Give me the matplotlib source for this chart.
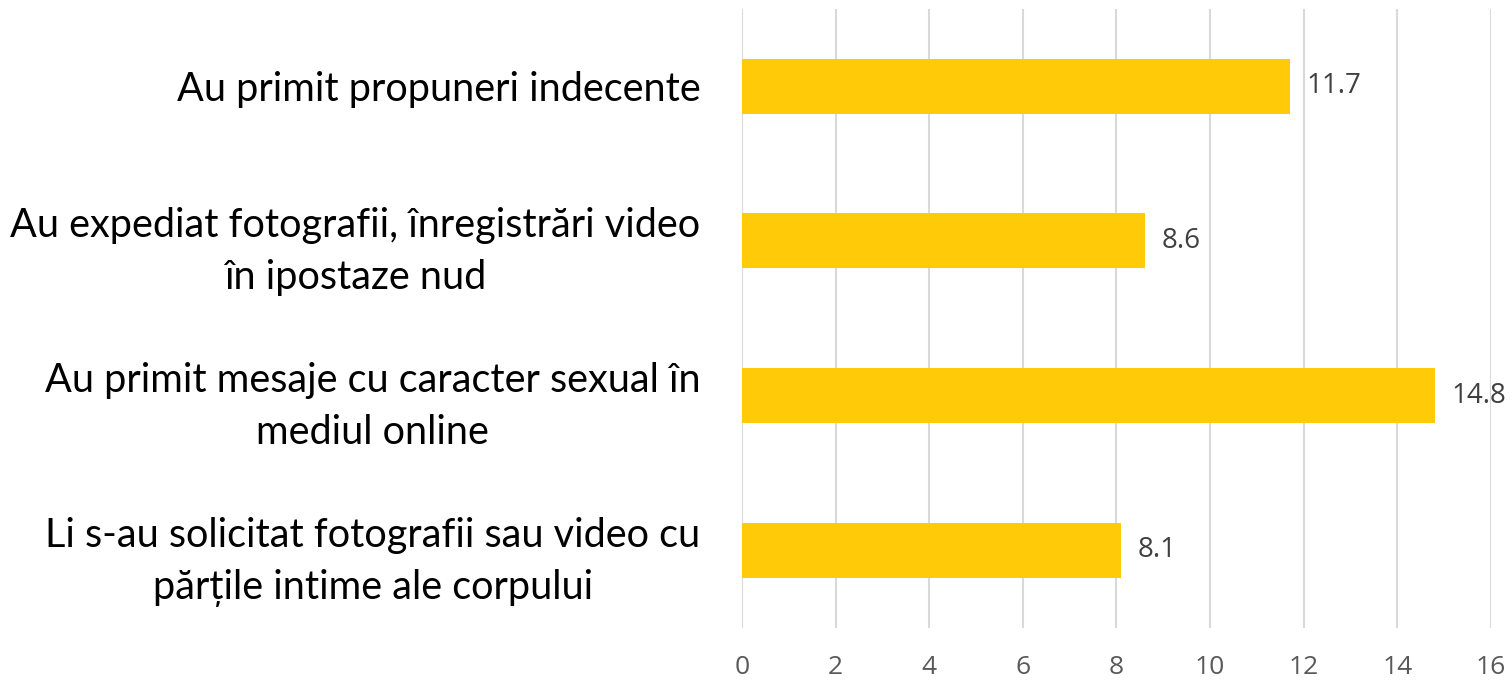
import matplotlib
matplotlib.use("Agg")
import matplotlib.pyplot as plt

categories = [
    "Au primit propuneri indecente",
    "Au expediat fotografii, înregistrări video\nîn ipostaze nud",
    "Au primit mesaje cu caracter sexual în\nmediul online",
    "Li s-au solicitat fotografii sau video cu\npărțile intime ale corpului",
]
values = [11.7, 8.6, 14.8, 8.1]
xticks = [0, 2, 4, 6, 8, 10, 12, 14, 16]

fig = plt.figure(figsize=(15.12, 6.81), dpi=100)
ax = fig.add_axes([0.4907, 0.0785, 0.4954, 0.9083])

bars = ax.barh(range(len(values)), values, height=0.355, color="#FFCA08", zorder=2)
ax.set_ylim(-0.5, len(values) - 0.5)
ax.invert_yaxis()
ax.set_xlim(0, 16)
ax.set_xticks(xticks)
ax.set_xticklabels([str(t) for t in xticks], family="Open Sans", fontsize=19, color="#595959")
ax.set_yticks(range(len(values)))
ax.set_yticklabels(categories, family="Lato", fontsize=28.5, color="black",
                   multialignment="center", linespacing=1.5)
ax.tick_params(axis="x", length=0, pad=20)
ax.tick_params(axis="y", length=0, pad=30)
ax.grid(axis="x", color="#D9D9D9", linewidth=1.5, zorder=0)
for s in ax.spines.values():
    s.set_visible(False)

ax.bar_label(bars, labels=[f"{v:.1f}" for v in values], padding=12,
             family="Open Sans", fontsize=20, color="#404040")

fig.savefig("out.png", dpi=100)
